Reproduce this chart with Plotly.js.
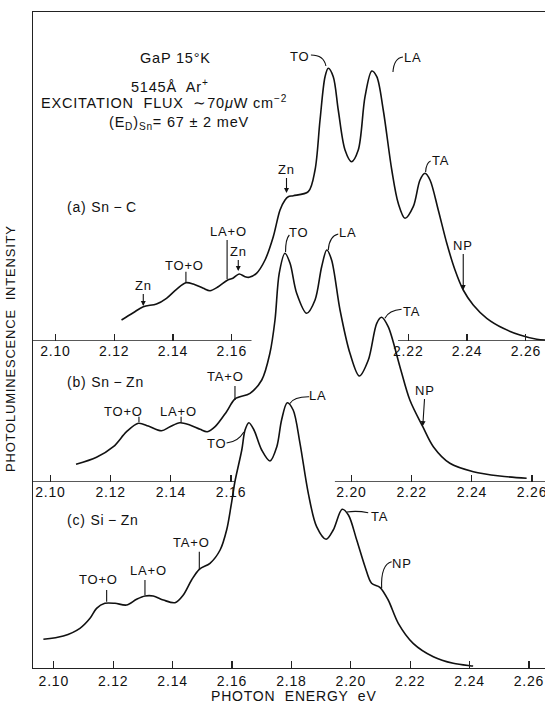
<!DOCTYPE html>
<html>
<head>
<meta charset="utf-8">
<script src="https://cdn.plot.ly/plotly-3.0.1.min.js"></script>
<style>
  html, body { margin: 0; padding: 0; background: #fff; }
  #chart { width: 545px; height: 704px; }
  svg text { letter-spacing: 0.8px; }
</style>
</head>
<body>
<div id="chart"></div>
<script>
// Photoluminescence of GaP at 15 K: photon energy (eV) and intensity (arb. units)

// (a) Sn-C
const energySnC = [2.1225, 2.1265, 2.1299, 2.1344, 2.1378, 2.1412, 2.1444, 2.1469, 2.1503, 2.1526,
  2.1554, 2.1586, 2.1605, 2.1625, 2.1645, 2.1659, 2.1684, 2.1713, 2.1741, 2.1764,
  2.1781, 2.1792, 2.1809, 2.1860, 2.1883, 2.1900, 2.1917, 2.1928, 2.1945, 2.1962,
  2.1985, 2.2007, 2.2030, 2.2053, 2.2076, 2.2093, 2.2115, 2.2144, 2.2166, 2.2189,
  2.2217, 2.2240, 2.2257, 2.2274, 2.2302, 2.2331, 2.2359, 2.2387, 2.2421, 2.2467,
  2.2523, 2.2580, 2.2637, 2.2665];
const intensitySnC = [2.1, 2.83, 3.43, 3.7, 4.27, 5.17, 5.83, 5.7, 5.27, 5.03,
  5.43, 6.1, 6.3, 6.7, 6.43, 6.37, 6.77, 8.1, 10.43, 13.1,
  14.1, 14.43, 14.53, 14.93, 17.1, 22.1, 26.43, 27.27, 26.43, 23.1,
  19.1, 17.93, 19.1, 24.43, 27.0, 26.43, 23.1, 17.1, 13.77, 12.27,
  13.43, 16.1, 16.77, 16.1, 13.1, 9.77, 7.1, 5.1, 3.6, 2.27,
  1.27, 0.6, 0.17, 0.1];

// (b) Sn-Zn
const energySnZn = [2.1085, 2.1153, 2.1209, 2.1253, 2.1292, 2.1325, 2.1369, 2.1397, 2.1430, 2.1463,
  2.1497, 2.1521, 2.1547, 2.1585, 2.1613, 2.1663, 2.1702, 2.1729, 2.1746, 2.1760,
  2.1779, 2.1796, 2.1818, 2.1851, 2.1879, 2.1901, 2.1918, 2.1934, 2.1962, 2.1995,
  2.2026, 2.2056, 2.2084, 2.2100, 2.2122, 2.2161, 2.2194, 2.2237, 2.2272, 2.2327,
  2.2405, 2.2493, 2.2582];
const intensitySnZn = [1.77, 2.47, 3.53, 5.03, 5.87, 5.6, 5.13, 5.53, 5.93, 5.7,
  5.27, 5.03, 5.53, 7.03, 8.3, 8.87, 10.2, 12.87, 16.2, 20.87,
  22.87, 21.87, 18.87, 16.87, 18.2, 21.53, 23.2, 22.2, 17.2, 12.87,
  10.6, 12.2, 15.87, 16.47, 15.53, 11.53, 8.2, 5.53, 3.53, 1.87,
  1.03, 0.6, 0.37];

// (c) Si-Zn
const energySiZn = [2.0965, 2.1032, 2.1088, 2.1122, 2.1144, 2.1172, 2.1206, 2.1245, 2.1279, 2.1307,
  2.1335, 2.1369, 2.1408, 2.1436, 2.1464, 2.1490, 2.1526, 2.1560, 2.1582, 2.1597,
  2.1610, 2.1633, 2.1644, 2.1657, 2.1674, 2.1700, 2.1728, 2.1751, 2.1767, 2.1786,
  2.1806, 2.1829, 2.1857, 2.1885, 2.1917, 2.1941, 2.1971, 2.1992, 2.2020, 2.2048,
  2.2070, 2.2098, 2.2126, 2.2160, 2.2210, 2.2278, 2.2345, 2.2401, 2.2412];
const intensitySiZn = [2.87, 3.2, 3.97, 4.97, 5.97, 6.47, 6.47, 6.3, 6.87, 7.2,
  7.2, 6.8, 6.53, 7.3, 8.8, 9.87, 10.47, 11.8, 13.8, 16.25,
  18.65, 21.8, 23.8, 24.53, 23.8, 21.8, 20.7, 22.13, 24.8, 26.53,
  25.8, 22.47, 17.47, 14.13, 12.87, 13.8, 15.87, 15.3, 12.8, 10.13,
  8.47, 8.07, 6.8, 4.47, 2.47, 1.13, 0.47, 0.23, 0.2];

// Tick values shown on each energy scale
const tickValsSnC  = [2.10, 2.12, 2.14, 2.16, 2.22, 2.24, 2.26];
const tickValsSnZn = [2.10, 2.12, 2.14, 2.16, 2.20, 2.22, 2.24, 2.26];
const tickValsSiZn = [2.10, 2.12, 2.14, 2.16, 2.18, 2.20, 2.22, 2.24, 2.26];

// Energy windows of each scale and the drawn pieces of the broken baselines
const rangeSnC  = [2.0924, 2.2665];
const rangeSnZn = [2.0942, 2.2643];
const rangeSiZn = [2.0930, 2.2654];
const baselineSnC  = [[2.0924, 2.1667], [2.2165, 2.2665]];
const baselineSnZn = [[2.0942, 2.1613], [2.1945, 2.2643]];

// Line assignments. Each label points at (energy, intensity); the text sits at (tx, ty)
// screen pixels from that point. Leaders: 'arrow' (from the text), 'tick' (straight
// line to (dx, dy)) or 'hook' (curve to (dx, dy) bent through (cx, cy)).
const labelsSnC = [
  {text: 'Zn',   e: 2.1299, v: 3.5,  tx: 0,   ty: -21,   lead: 'arrow'},
  {text: 'TO+O', e: 2.1444, v: 5.83, tx: -1,  ty: -17.7, lead: 'tick', dx: 0, dy: -11},
  {text: 'LA+O', e: 2.1584, v: 6.2,  tx: 1,   ty: -48,   lead: 'tick', dx: 0, dy: -39},
  {text: 'Zn',   e: 2.1622, v: 7.0,  tx: 0,   ty: -20,   lead: 'arrow'},
  {text: 'Zn',   e: 2.1786, v: 14.8, tx: 0,   ty: -24,   lead: 'arrow'},
  {text: 'TO',   e: 2.1920, v: 27.5, tx: -26, ty: -9.3,  lead: 'hook', dx: -15, dy: -11, cx: -2, cy: -11},
  {text: 'LA',   e: 2.2148, v: 26.9, tx: 20,  ty: -15,   lead: 'hook', dx: 10, dy: -15, cx: 1, cy: -14},
  {text: 'TA',   e: 2.2259, v: 16.9, tx: 15,  ty: -11.3, lead: 'hook', dx: 5, dy: -11, cx: 0.5, cy: -9},
  {text: 'NP',   e: 2.2387, v: 5.1,  tx: 0,   ty: -45,   lead: 'arrow'}
];
const labelsSnZn = [
  {text: 'TO+O', e: 2.1294, v: 6.0,   tx: -15,  ty: -10.3, lead: 'tick', dx: 0, dy: -5.3},
  {text: 'LA+O', e: 2.1434, v: 5.93,  tx: -3,   ty: -11,   lead: 'tick', dx: 0, dy: -6},
  {text: 'TA+O', e: 2.1613, v: 8.2,   tx: -9.5, ty: -23.3, lead: 'tick', dx: 0, dy: -14},
  {text: 'TO',   e: 2.1781, v: 23.0,  tx: 12.8, ty: -19.3, lead: 'hook', dx: 3.8, dy: -17, cx: 0, cy: -13},
  {text: 'LA',   e: 2.1923, v: 23.2,  tx: 20,   ty: -17.3, lead: 'hook', dx: 10, dy: -16, cx: 1, cy: -14},
  {text: 'TA',   e: 2.2111, v: 16.37, tx: 26.7, ty: -6.6,  lead: 'hook', dx: 16.7, dy: -9, cx: 4, cy: -8},
  {text: 'NP',   e: 2.2237, v: 5.6,   tx: 2.3,  ty: -36,   lead: 'arrow'}
];
const labelsSiZn = [
  {text: 'TO+O', e: 2.1178, v: 6.63,  tx: -7.7, ty: -22.4, lead: 'tick', dx: 0, dy: -11.7},
  {text: 'LA+O', e: 2.1307, v: 7.3,   tx: 3.7,  ty: -24.3, lead: 'tick', dx: 0, dy: -15},
  {text: 'TA+O', e: 2.1490, v: 9.87,  tx: -7.6, ty: -26.6, lead: 'tick', dx: 0, dy: -17.6},
  {text: 'TO',   e: 2.1640, v: 23.6,  tx: -27.3, ty: 11.6, lead: 'hook', dx: -17.3, dy: 11, cx: -6, cy: 10},
  {text: 'LA',   e: 2.1795, v: 26.45, tx: 28.3, ty: -8.5,  lead: 'hook', dx: 19.3, dy: -6.8, cx: 4, cy: -7},
  {text: 'TA',   e: 2.1987, v: 15.6,  tx: 32.3, ty: 4,     lead: 'hook', dx: 21.3, dy: 0.7, cx: 10, cy: -1.5},
  {text: 'NP',   e: 2.2104, v: 7.97,  tx: 20,   ty: -25,   lead: 'hook', dx: 10, dy: -26.6, cx: -1, cy: -24}
];

const FONT = "'Liberation Sans', Arial, sans-serif";
const INK = '#111';
const AXIS = '#222';

// Plot area in page pixels, for placing free text
const area = {left: 33, right: 545, top: 12, bottom: 668};
const paperX = p => (p - area.left) / (area.right - area.left);
const paperY = p => (area.bottom - p) / (area.bottom - area.top);

const fmt = v => v.toFixed(2);

function spectrum(x, y, xa, ya) {
  return {
    x: x, y: y, xaxis: xa, yaxis: ya, type: 'scatter', mode: 'lines',
    line: {color: INK, width: 1.6, shape: 'spline', smoothing: 0.9},
    hoverinfo: 'skip'
  };
}

function energyAxis(range, ticks, anchor, full) {
  return {
    domain: [0, 1], anchor: anchor, range: range,
    showline: full, mirror: full, linecolor: AXIS, linewidth: 1.3,
    ticks: 'inside', ticklen: 7, tickwidth: 1.2, tickcolor: AXIS,
    tickvals: ticks, ticktext: ticks.map(fmt), ticklabeloverflow: 'allow',
    tickfont: {family: FONT, size: 14, color: INK},
    showgrid: false, zeroline: false, fixedrange: true
  };
}

// Text of each assignment; arrows are drawn straight from the text box
function labelAnnotations(list, xa, ya) {
  return list.map(l => {
    const a = {
      xref: xa, yref: ya, x: l.e, y: l.v, text: l.text,
      xanchor: 'center', yanchor: 'middle',
      font: {family: FONT, size: 13, color: INK}
    };
    if (l.lead === 'arrow') {
      Object.assign(a, {showarrow: true, ax: l.tx, ay: l.ty, arrowhead: 2, arrowsize: 0.9,
        arrowwidth: 1.1, arrowcolor: INK, standoff: 0, startstandoff: 0});
    } else {
      Object.assign(a, {showarrow: false, xshift: l.tx, yshift: -l.ty});
    }
    return a;
  });
}

// Leader ticks and hooks, sized in pixels around the labelled point
function leaderShapes(list, xa, ya) {
  return list.filter(l => l.lead !== 'arrow').map(l => {
    const s = {
      xref: xa, yref: ya, xsizemode: 'pixel', ysizemode: 'pixel',
      xanchor: l.e, yanchor: l.v, line: {color: INK, width: 1.1}
    };
    if (l.lead === 'tick') {
      return Object.assign(s, {type: 'line', x0: 0, y0: 0, x1: l.dx, y1: -l.dy});
    }
    return Object.assign(s, {type: 'path',
      path: `M0,0 Q${l.cx},${-l.cy} ${l.dx},${-l.dy}`});
  });
}

function baselineShapes(segs, xa, ya) {
  return segs.map(([a, b]) => ({
    type: 'line', xref: xa, yref: ya, x0: a, x1: b, y0: 0, y1: 0,
    line: {color: AXIS, width: 1.3}
  }));
}

function freeText(text, x, y, size, extra) {
  return Object.assign({
    xref: 'paper', yref: 'paper', x: paperX(x), y: paperY(y), text: text,
    showarrow: false, xanchor: 'center', yanchor: 'middle',
    font: {family: FONT, size: size, color: INK}
  }, extra || {});
}

const data = [
  spectrum(energySiZn, intensitySiZn, 'x', 'y'),
  spectrum(energySnZn, intensitySnZn, 'x2', 'y2'),
  spectrum(energySnC, intensitySnC, 'x3', 'y3')
];

const annotations = [].concat(
  labelAnnotations(labelsSnC, 'x3', 'y3'),
  labelAnnotations(labelsSnZn, 'x2', 'y2'),
  labelAnnotations(labelsSiZn, 'x', 'y'),
  [
    freeText('GaP 15°K', 175, 58, 14.5),
    freeText('5145Å  Ar<sup>+</sup>', 170, 86.5, 14.5),
    freeText('EXCITATION  FLUX  ∼70<i>μ</i>W cm<sup>−2</sup>', 164.4, 102, 14.5),
    freeText('(E<sub>D</sub>)<sub>Sn</sub>= 67 ± 2 meV', 179, 122.5, 14.5),
    freeText('(a) Sn\u2009−\u2009C', 65, 207.5, 14, {xanchor: 'left'}),
    freeText('(b) Sn\u2009−\u2009Zn', 65, 381.7, 14, {xanchor: 'left'}),
    freeText('(c) Si\u2009−\u2009Zn', 65, 520, 14, {xanchor: 'left'}),
    freeText('PHOTON  ENERGY  eV', 294, 695.5, 14),
    freeText('PHOTOLUMINESCENCE  INTENSITY', 10, 349, 13, {textangle: -90})
  ]
);

const layout = {
  width: 545, height: 704,
  margin: {l: 33, r: 0, t: 12, b: 36, pad: 0},
  paper_bgcolor: '#ffffff', plot_bgcolor: 'rgba(0,0,0,0)',
  showlegend: false,
  font: {family: FONT, size: 14, color: INK},
  xaxis: energyAxis(rangeSiZn, tickValsSiZn, 'y', true),
  yaxis: {domain: [0, 1], anchor: 'x', range: [0, 65.6], showline: true, linecolor: AXIS,
          linewidth: 1.3, ticks: '', showticklabels: false, showgrid: false, zeroline: false,
          fixedrange: true},
  xaxis2: energyAxis(rangeSnZn, tickValsSnZn, 'y2', false),
  yaxis2: {domain: [paperY(482), 1], anchor: 'x2', range: [0, 47.0], visible: false, fixedrange: true},
  xaxis3: energyAxis(rangeSnC, tickValsSnC, 'y3', false),
  yaxis3: {domain: [paperY(341), 1], anchor: 'x3', range: [0, 32.9], visible: false, fixedrange: true},
  shapes: [].concat(
    baselineShapes(baselineSnC, 'x3', 'y3'),
    baselineShapes(baselineSnZn, 'x2', 'y2'),
    leaderShapes(labelsSnC, 'x3', 'y3'),
    leaderShapes(labelsSnZn, 'x2', 'y2'),
    leaderShapes(labelsSiZn, 'x', 'y')
  ),
  annotations: annotations
};

Plotly.newPlot('chart', data, layout, {displayModeBar: false, staticPlot: true});
</script>
</body>
</html>
